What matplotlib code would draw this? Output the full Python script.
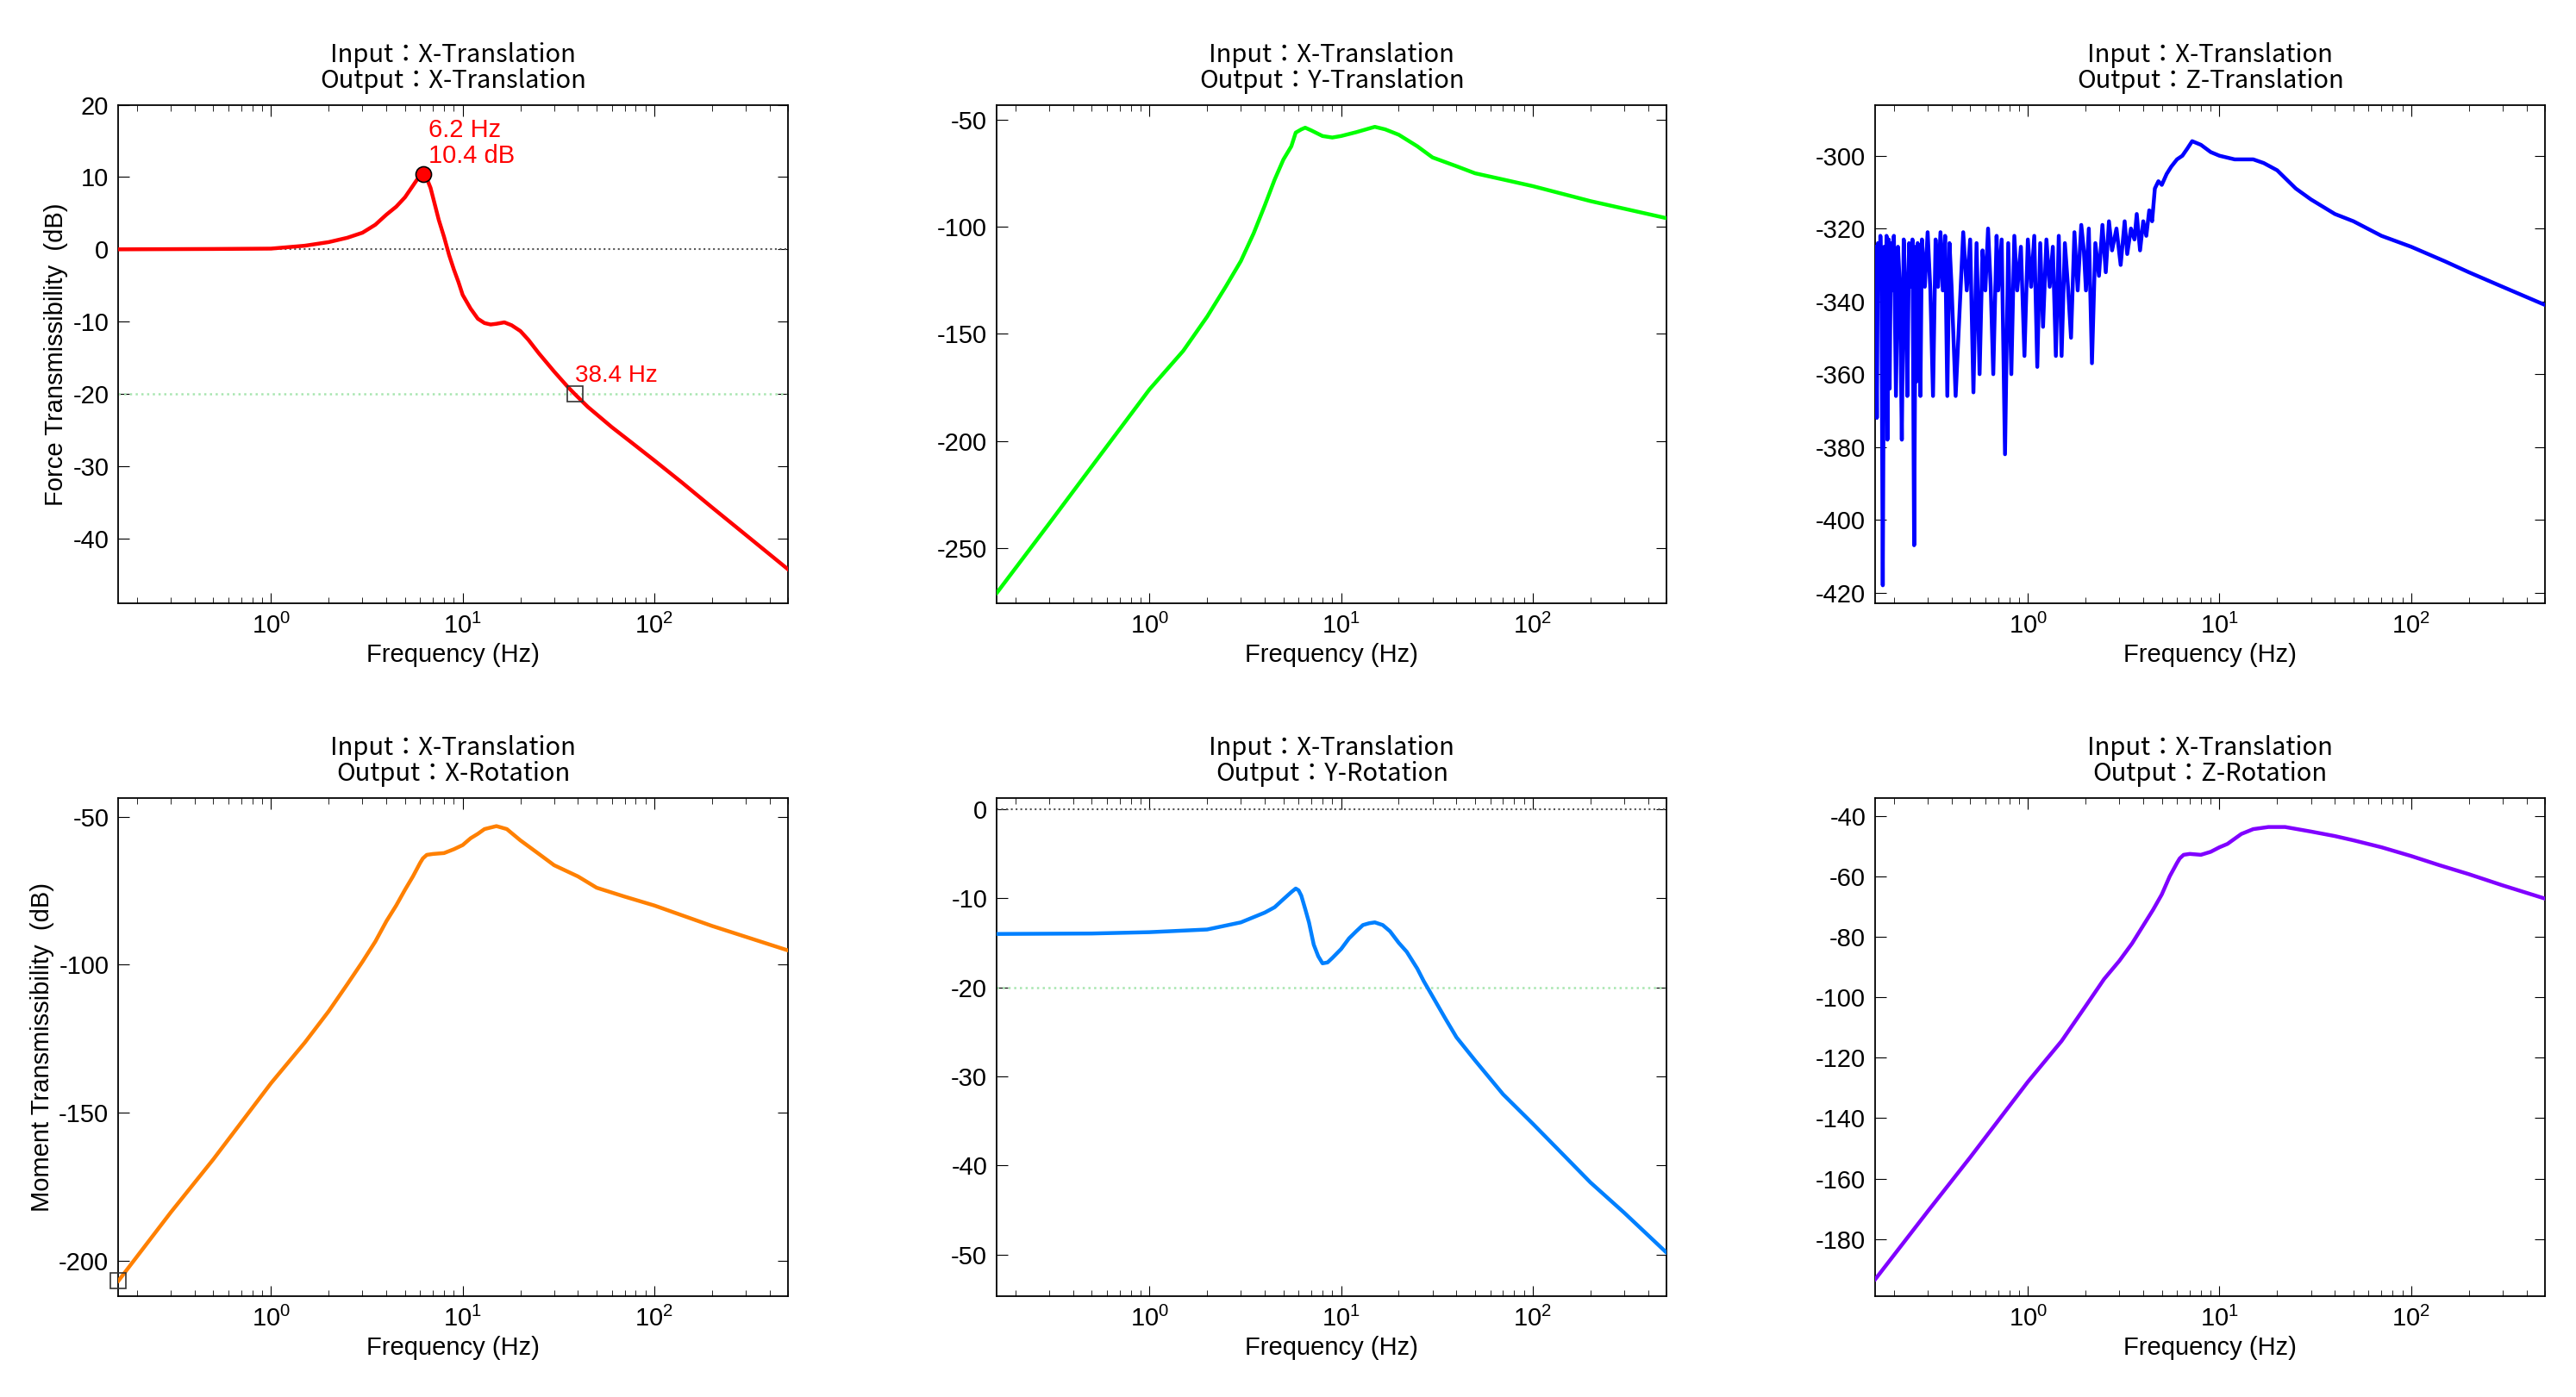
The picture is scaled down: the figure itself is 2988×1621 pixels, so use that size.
import matplotlib

matplotlib.use("Agg")
import matplotlib.pyplot as plt
from matplotlib import font_manager
from matplotlib.ticker import LogLocator, NullFormatter

plt.rcParams["font.family"] = ["Liberation Sans"]
plt.rcParams["axes.unicode_minus"] = False

# titles use a full-width colon, so they need a CJK-capable sans font
cjk = [f.fname for f in font_manager.fontManager.ttflist
       if "Sans CJK" in f.name and f.weight in (400, "normal", "regular", "Regular")]
if not cjk:
    cjk = [f.fname for f in font_manager.fontManager.ttflist if "Sans CJK" in f.name]
TITLE_PROPS = font_manager.FontProperties(fname=cjk[0]) if cjk else font_manager.FontProperties()

# ---- data ----
F_XX = [0.16, 0.5, 1, 1.5, 2, 2.5, 3, 3.5, 4, 4.5, 5, 5.5, 5.8, 6.0, 6.2, 6.5, 6.8, 7.0,
        7.5, 8, 8.5, 9, 9.5, 10, 11, 12, 13, 14, 15, 16.5, 18, 20, 22, 25, 30, 35, 38.4,
        45, 60, 75, 100, 140, 200, 300, 500]
XX = [0, 0.05, 0.1, 0.5, 1.0, 1.6, 2.3, 3.4, 4.8, 5.9, 7.2, 8.8, 9.7, 10.2, 10.4, 9.8,
      8.5, 7.2, 4.1, 1.7, -0.8, -2.8, -4.5, -6.3, -8.2, -9.6, -10.2, -10.4, -10.3, -10.1,
      -10.5, -11.3, -12.5, -14.4, -16.9, -18.9, -20.0, -21.8, -24.6, -26.6, -29.2,
      -32.3, -35.7, -39.5, -44.3]

F_XY = [0.16, 0.3, 0.5, 1, 1.5, 2, 2.5, 3, 3.5, 4, 4.5, 5, 5.5, 5.8, 6.2, 6.5, 7, 8, 9,
        10, 12, 15, 17, 20, 25, 30, 40, 50, 70, 100, 200, 500]
XY = [-271, -238.6, -212, -176, -158, -142, -128, -116, -103, -90, -78, -68.6, -62.4,
      -56, -54.5, -53.7, -55, -57.6, -58.3, -57.6, -55.8, -53.3, -54.5, -57, -62.4,
      -67.6, -71.7, -75, -77.9, -81, -88, -96]

F_XZ = [0.16, 0.163, 0.165, 0.168, 0.17, 0.172, 0.175, 0.178, 0.18, 0.183, 0.185, 0.188,
        0.19, 0.193, 0.196, 0.2, 0.205, 0.21, 0.215, 0.22, 0.225, 0.23, 0.235, 0.24,
        0.245, 0.25, 0.255, 0.26, 0.263, 0.266, 0.27, 0.275, 0.28, 0.29, 0.3, 0.31,
        0.32, 0.33, 0.34, 0.35, 0.36, 0.37, 0.38, 0.39, 0.4, 0.42,
        0.46, 0.48, 0.5, 0.52, 0.54, 0.56, 0.58, 0.6, 0.62, 0.64, 0.66, 0.687, 0.7,
        0.73, 0.76, 0.79, 0.82, 0.85, 0.88, 0.92, 0.96, 1.0, 1.04, 1.08, 1.12, 1.16,
        1.2, 1.25, 1.3, 1.35, 1.4, 1.45, 1.5, 1.56, 1.62, 1.68, 1.75, 1.82, 1.9, 1.96,
        2.01, 2.08, 2.16, 2.25, 2.35, 2.45, 2.55, 2.65, 2.75, 2.9, 3.05, 3.2, 3.3,
        3.45, 3.6, 3.7, 3.85, 4.0, 4.15, 4.3, 4.45, 4.6, 4.8, 5.0, 5.3, 5.6, 6.0,
        6.4, 6.8, 7.2, 8.0, 9.0, 10, 12, 15, 17, 20, 25, 30, 40, 50, 70, 100, 150,
        200, 300, 500]
XZ = [-325, -372, -324, -336, -322, -330, -418, -325, -360, -322, -378, -323,
      -364, -324, -337, -322, -366, -325, -336, -378, -323, -337, -366, -324,
      -336, -323, -407, -325, -362, -324, -337, -366, -323, -336, -321, -337,
      -366, -323, -336, -321, -337, -322, -366, -324, -336, -366, -321, -337,
      -323, -365, -324, -360, -326, -337, -320, -336, -360, -322, -337, -323,
      -382, -324, -360, -322, -337, -325, -355, -323, -336, -322, -358, -324,
      -347, -323, -336, -325, -355, -322, -355, -324, -336, -350, -321, -337,
      -319, -326, -337, -320, -357, -324, -333, -319, -332, -318, -326, -320,
      -330, -318, -327, -320, -323, -316, -326, -318, -322, -315, -318, -309,
      -307, -308, -305, -303, -301, -300, -298, -296, -297, -299, -300, -301,
      -301, -302, -304, -309, -312, -316, -318, -322, -325, -329, -332, -336, -341]

F_RX = [0.16, 0.3, 0.5, 1, 1.5, 2, 2.5, 3, 3.5, 4, 4.5, 5, 5.5, 6, 6.2, 6.5, 7, 8, 9,
        10, 11, 12, 13, 15, 17, 20, 25, 30, 40, 50, 70, 100, 200, 500]
RX = [-206.7, -183.6, -165.7, -140, -126.3, -115.7, -106.6, -99, -92.2, -85.3, -80,
      -74.7, -70.2, -65.6, -64.1, -62.9, -62.6, -62.3, -61, -59.6, -57.3, -55.8, -54.2,
      -53.2, -54.2, -58, -62.6, -66.4, -70.2, -74, -77, -80, -86.9, -95.2]

F_RY = [0.16, 0.5, 1, 2, 3, 4, 4.5, 5, 5.5, 5.8, 6.0, 6.2, 6.5, 6.8, 7.2, 7.6, 8, 8.5,
        9, 10, 11, 12, 13, 14, 15, 16.5, 18, 20, 22, 25, 27, 30, 35, 40, 50, 70, 100,
        140, 200, 300, 500]
RY = [-14.0, -13.95, -13.8, -13.5, -12.7, -11.6, -11.0, -10.1, -9.3, -8.9, -9.1, -9.7,
      -11.2, -12.7, -15.2, -16.5, -17.3, -17.2, -16.7, -15.7, -14.5, -13.7, -13.0,
      -12.8, -12.7, -13.0, -13.7, -15.0, -16.0, -17.9, -19.3, -21.0, -23.5, -25.6,
      -28.2, -32.0, -35.3, -38.5, -41.9, -45.3, -49.8]

F_RZ = [0.16, 0.3, 0.5, 1, 1.5, 2, 2.5, 3, 3.5, 4, 4.5, 5, 5.5, 6, 6.2, 6.5, 7, 8, 9,
        10, 11, 13, 15, 18, 22, 30, 40, 50, 70, 100, 140, 200, 300, 500]
RZ = [-193.3, -170.9, -153, -128, -114.5, -103, -94, -88, -82.2, -76.3, -71.1, -66,
      -60, -55.6, -54.1, -52.9, -52.6, -52.9, -51.9, -50.4, -49.3, -46, -44.4, -43.7,
      -43.7, -45.2, -46.7, -48.1, -50.4, -53.3, -56.3, -59.3, -63, -67.4]

OUTPUTS = ["X-Translation", "Y-Translation", "Z-Translation",
           "X-Rotation", "Y-Rotation", "Z-Rotation"]
SERIES = [(F_XX, XX), (F_XY, XY), (F_XZ, XZ), (F_RX, RX), (F_RY, RY), (F_RZ, RZ)]
COLORS = ["#ff0000", "#00ff00", "#0000ff", "#ff8000", "#0080ff", "#8000ff"]
YLIMS = [(-49, 20), (-276, -43), (-423, -286), (-212, -43.6), (-54.7, 1.3), (-199, -34)]
YTICKS = [range(-40, 21, 10), range(-250, -49, 50), range(-420, -299, 20),
          range(-200, -49, 50), range(-50, 1, 10), range(-180, -39, 20)]

fig = plt.figure(figsize=(29.88, 16.21), dpi=100)
lefts = [0.046, 0.387, 0.728]
rects = [(l, 0.568, 0.26, 0.357) for l in lefts] + [(l, 0.072, 0.26, 0.357) for l in lefts]

axes = []
for i, rect in enumerate(rects):
    ax = fig.add_axes(rect)
    f, v = SERIES[i]
    ax.semilogx(f, v, color=COLORS[i], lw=3.2, zorder=3)
    ax.set_xlim(0.16, 500)
    ax.set_ylim(*YLIMS[i])
    ax.set_yticks(list(YTICKS[i]))
    ax.xaxis.set_minor_locator(LogLocator(base=10, subs=range(2, 10), numticks=20))
    ax.xaxis.set_minor_formatter(NullFormatter())
    ax.tick_params(which="both", direction="in", top=True, right=True, labelsize=21)
    ax.tick_params(which="major", length=9, pad=8)
    ax.tick_params(which="minor", length=5)
    for s in ax.spines.values():
        s.set_linewidth(1.3)
    ax.set_xlabel("Frequency (Hz)", fontsize=21)
    ax.set_title(f"Input：X-Translation\nOutput：{OUTPUTS[i]}", fontproperties=TITLE_PROPS,
                 fontsize=21, linespacing=1.0, pad=14)
    axes.append(ax)

# reference lines
for ax in (axes[0], axes[4]):
    ax.axhline(0, color="#555555", ls=":", lw=1.5, zorder=2)
    ax.axhline(-20, color="#a8e6b0", ls=":", lw=1.8, zorder=2)

ax = axes[0]
ax.set_ylabel("Force Transmissibility  (dB)", fontsize=21)
ax.plot(6.2, 10.4, "o", ms=13, mfc="red", mec="black", mew=1.2, zorder=4)
ax.text(6.6, 11.2, "6.2 Hz\n10.4 dB", color="red", fontsize=21, va="bottom",
        linespacing=1.1)
ax.plot(38.4, -20, "s", ms=13, mfc="none", mec="#333333", mew=1.2, zorder=4)
ax.text(38.4, -19.0, "38.4 Hz", color="red", fontsize=20, va="bottom")

ax = axes[3]
ax.set_ylabel("Moment Transmissibility  (dB)", fontsize=21)
ax.plot(0.16, -206.7, "s", ms=13, mfc="none", mec="#333333", mew=1.2, zorder=4,
        clip_on=False)

fig.savefig("out.png", dpi=100)
